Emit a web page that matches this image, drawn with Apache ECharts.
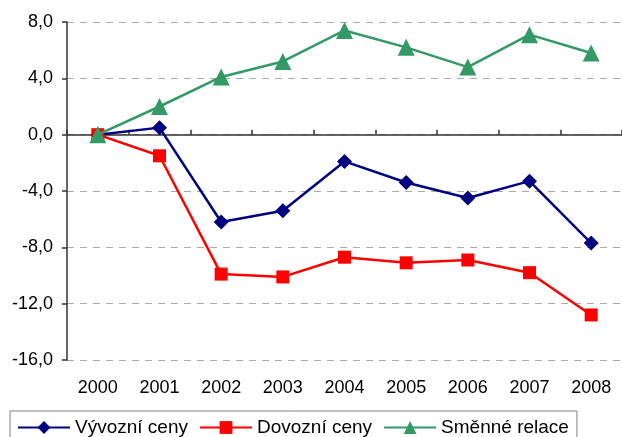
<!DOCTYPE html>
<html>
<head>
<meta charset="utf-8">
<script src="https://cdn.jsdelivr.net/npm/echarts@6/dist/echarts.min.js"></script>
<style>
  html, body { margin: 0; padding: 0; background: #fff; }
  #main { width: 622px; height: 437px; }
</style>
</head>
<body>
<div id="main"></div>
<script>
// data
const years = ['2000', '2001', '2002', '2003', '2004', '2005', '2006', '2007', '2008']
const vyvozniCeny = [0, 0.5, -6.2, -5.4, -1.9, -3.4, -4.5, -3.3, -7.7]
const dovozniCeny = [0, -1.5, -9.9, -10.1, -8.7, -9.1, -8.9, -9.8, -12.8]
const smenneRelace = [0, 2.0, 4.1, 5.2, 7.4, 6.2, 4.8, 7.1, 5.8]
const yTicks = [-16, -12, -8, -4, 0, 4, 8]

const font = 'Liberation Sans, Arial, sans-serif'
const chart = echarts.init(document.getElementById('main'))

const option = {
  animation: false,
  textStyle: { fontFamily: font },
  grid: { left: 67, right: -5, top: 22, bottom: 77 },
  legend: {
    left: 10,
    top: 411,
    padding: [7, 8, 8, 7],
    itemWidth: 52,
    itemHeight: 16,
    itemGap: 11,
    borderColor: '#808080',
    borderWidth: 1,
    textStyle: { fontSize: 19, color: '#000', fontFamily: font },
    data: ['Vývozní ceny', 'Dovozní ceny', 'Směnné relace']
  },
  xAxis: [
    {
      // popisky dole
      type: 'category',
      data: years,
      axisLine: { show: false, onZero: false },
      axisTick: { show: false },
      axisLabel: { fontSize: 18, color: '#000', margin: 19 }
    },
    {
      // nulová osa s ryskami
      type: 'category',
      data: years,
      axisLine: { onZero: true, lineStyle: { color: '#333', width: 1.5 } },
      axisTick: { show: true, length: 5, lineStyle: { color: '#333', width: 1.5 } },
      axisLabel: { show: false }
    }
  ],
  yAxis: {
    type: 'value',
    min: yTicks[0],
    max: yTicks[yTicks.length - 1],
    interval: 4,
    axisLine: { show: true, lineStyle: { color: '#333', width: 1.5 } },
    axisTick: { show: true, length: 5, lineStyle: { color: '#333', width: 1.5 } },
    axisLabel: {
      fontSize: 18,
      color: '#000',
      margin: 14,
      formatter: v => v.toFixed(1).replace('.', ',')
    },
    splitLine: { show: true, lineStyle: { color: '#aaa', type: [7, 6], width: 1 } }
  },
  series: [
    {
      name: 'Vývozní ceny',
      type: 'line',
      data: vyvozniCeny,
      color: '#000080',
      symbol: 'diamond',
      symbolSize: 15,
      lineStyle: { width: 2.5, color: '#000080' },
      itemStyle: { color: '#000080' },
      z: 3
    },
    {
      name: 'Dovozní ceny',
      type: 'line',
      data: dovozniCeny,
      color: '#ff0000',
      symbol: 'rect',
      symbolSize: 13,
      lineStyle: { width: 2.5, color: '#ff0000' },
      itemStyle: { color: '#ff0000' },
      z: 4
    },
    {
      name: 'Směnné relace',
      type: 'line',
      data: smenneRelace,
      color: '#339966',
      symbol: 'triangle',
      symbolSize: 17,
      lineStyle: { width: 2.5, color: '#339966' },
      itemStyle: { color: '#339966' },
      z: 5
    }
  ]
}

chart.setOption(option)
window.onresize = () => chart.resize()
</script>
</body>
</html>
